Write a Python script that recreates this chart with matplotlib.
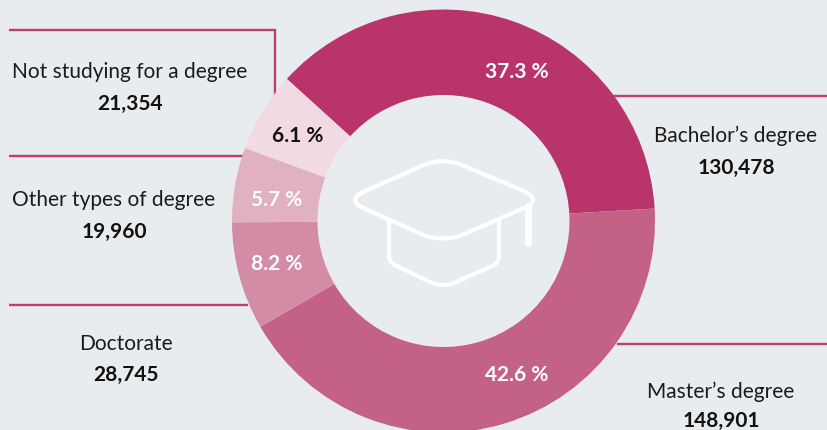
import matplotlib
matplotlib.use("Agg")
import matplotlib.pyplot as plt
from matplotlib.path import Path
from matplotlib.patches import PathPatch

categories = ["Bachelor’s degree", "Master’s degree", "Doctorate", "Other types of degree", "Not studying for a degree"]
counts = [130478, 148901, 28745, 19960, 21354]
count_labels = ["130,478", "148,901", "28,745", "19,960", "21,354"]
pct_labels = ["37.3 %", "42.6 %", "8.2 %", "5.7 %", "6.1 %"]
colors = ["#B8346B", "#C46186", "#D38CA6", "#E0B2C1", "#F2DAE3"]
pct_colors = ["white", "white", "white", "white", "#111111"]

BG = "#E9ECEF"
LINE = "#BC3E72"
H = 430
plt.rcParams["font.family"] = ["Lato", "DejaVu Sans"]

fig = plt.figure(figsize=(8.27, 4.30), dpi=100, facecolor=BG)
ax = fig.add_axes([0, 0, 1, 1])
cx, cy, R, r = 443.5, H - 221, 211.5, 126

ax.pie(counts, colors=colors, startangle=137.8, counterclock=False, center=(cx, cy), radius=R,
       wedgeprops=dict(width=R - r, linewidth=0, zorder=3), frame=True)
ax.set_aspect("auto")
ax.set_xlim(0, 827)
ax.set_ylim(0, H)
ax.axis("off")

def Y(y):
    return H - y

# leader lines
lines = [
    ([612, 827], [96, 96]),
    ([617, 827], [344, 344]),
    ([9, 248], [305, 305]),
    ([9, 243], [156, 156]),
    ([9, 275, 275], [30, 30, 98]),
]
for xs, ys in lines:
    ax.plot(xs, [Y(v) for v in ys], color=LINE, lw=1.7, solid_joinstyle="miter", solid_capstyle="butt", zorder=1)

# category labels
label_xy = [(736, 136, 168), (721, 392, 421), (126, 344, 375), (114, 200, 232), (130, 72, 104)]
for name, cnt, (x, y1, y2) in zip(categories, count_labels, label_xy):
    ax.text(x, Y(y1), name, ha="center", va="center", fontsize=15, color="#1a1a1a", zorder=5)
    ax.text(x, Y(y2), cnt, ha="center", va="center", fontsize=15, fontweight="bold", color="#111111", zorder=5)

# percentage labels
pct_xy = [(517, 72), (517, 375), (277, 264), (277, 200), (298, 136)]
for t, c, (x, y) in zip(pct_labels, pct_colors, pct_xy):
    ax.text(x, Y(y), t, ha="center", va="center", fontsize=15, fontweight="bold", color=c, zorder=5)

# graduation cap icon
def icon(points):
    verts, codes = [], []
    for code, pts in points:
        codes.extend([code] * len(pts))
        verts.extend([(x, Y(y)) for x, y in pts])
    return Path(verts, codes)

M, L, C = Path.MOVETO, Path.LINETO, Path.CURVE3
board = icon([
    (M, [(363, 192)]), (L, [(424, 165)]), (C, [(443, 157), (462, 165)]),
    (L, [(526, 192)]), (C, [(540, 200), (526, 207)]),
    (L, [(460, 236)]), (C, [(443, 241), (426, 236)]),
    (L, [(363, 208)]), (C, [(347, 200), (363, 192)]),
])
body = icon([
    (M, [(389, 220)]), (L, [(389, 256)]), (C, [(389, 262), (395, 265)]),
    (L, [(432, 283)]), (C, [(443, 287), (454, 283)]),
    (L, [(492, 266)]), (C, [(499, 263), (499, 256)]), (L, [(499, 220)]),
])
for p in (board, body):
    ax.add_patch(PathPatch(p, fill=False, edgecolor="white", lw=3, capstyle="round", joinstyle="round", zorder=4))
ax.plot([527.5, 527.5], [Y(206), Y(243)], color="white", lw=5, solid_capstyle="round", zorder=4)

fig.savefig("out.png", dpi=100, facecolor=BG)
